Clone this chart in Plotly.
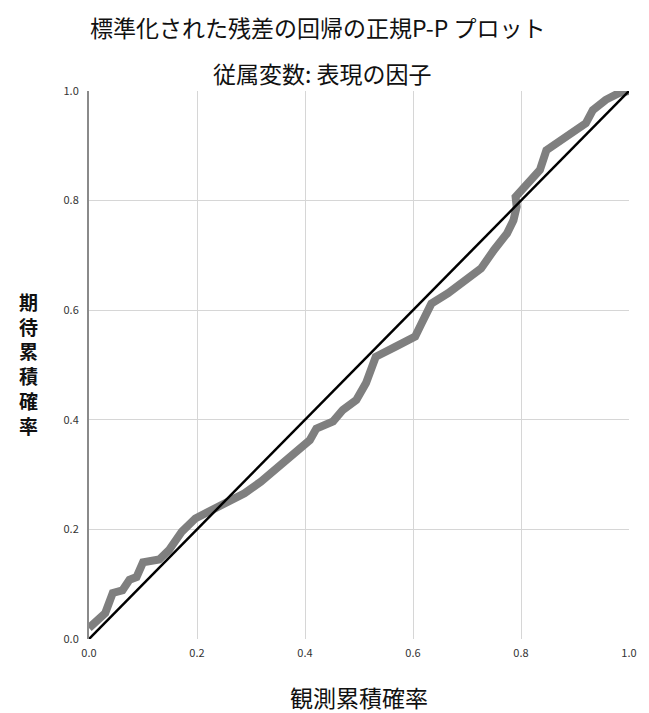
import plotly.graph_objects as go

# Observed cumulative probability vs expected cumulative probability
observed_cum = [0.0, 0.012, 0.03, 0.044, 0.062, 0.075, 0.088, 0.10, 0.117, 0.13, 0.148,
                0.172, 0.197, 0.227, 0.257, 0.288, 0.318, 0.349, 0.379, 0.409, 0.421,
                0.452, 0.470, 0.495, 0.513, 0.531, 0.567, 0.604, 0.616, 0.634, 0.665,
                0.695, 0.726, 0.75, 0.774, 0.786, 0.792, 0.79, 0.811, 0.835, 0.847,
                0.872, 0.896, 0.920, 0.933, 0.957, 0.981, 1.0]
expected_cum = [0.02, 0.03, 0.047, 0.084, 0.089, 0.108, 0.113, 0.14, 0.144, 0.145, 0.162,
                0.196, 0.220, 0.235, 0.248, 0.266, 0.287, 0.314, 0.339, 0.363, 0.384,
                0.397, 0.418, 0.436, 0.467, 0.515, 0.533, 0.552, 0.576, 0.612, 0.631,
                0.655, 0.676, 0.71, 0.740, 0.764, 0.789, 0.807, 0.831, 0.856, 0.892,
                0.908, 0.923, 0.941, 0.965, 0.984, 0.996, 1.0]
reference_line = [0.0, 1.0]
tick_vals = [0.0, 0.2, 0.4, 0.6, 0.8, 1.0]
tick_text = ["0.0", "0.2", "0.4", "0.6", "0.8", "1.0"]

title_text = "標準化された残差の回帰の正規P-P プロット"
subtitle_text = "従属変数: 表現の因子"
x_title = "観測累積確率"
y_title = "期待累積確率"

cjk = "Noto Sans CJK JP"

fig = go.Figure()
fig.add_trace(go.Scatter(
    x=observed_cum, y=expected_cum, mode="lines",
    line=dict(color="#7f7f7f", width=8),
    showlegend=False, hoverinfo="skip",
))
fig.add_trace(go.Scatter(
    x=reference_line, y=reference_line, mode="lines",
    line=dict(color="#000000", width=2.5),
    showlegend=False, hoverinfo="skip",
))

axis_common = dict(
    range=[0, 1], tickvals=tick_vals, ticktext=tick_text,
    showgrid=True, gridcolor="#d6d6d6", gridwidth=1,
    zeroline=False, ticks="",
    tickfont=dict(family=cjk, size=11, color="#333333"),
    fixedrange=True,
)

fig.update_xaxes(**axis_common, showline=False, ticklabelstandoff=6)
fig.update_yaxes(**axis_common, showline=True, linecolor="#8a8a8a", linewidth=2,
                 ticklabelstandoff=6)

# plot area in pixels: left 89, right 637, top 91, bottom 639
M_L, M_R, M_T, M_B = 89, 12, 91, 74
W, H = 649, 713
plot_w = W - M_L - M_R
plot_h = H - M_T - M_B


def px_x(px):
    return (px - M_L) / plot_w


def px_y(py):
    return (H - M_B - py) / plot_h


def label(text, x, y, size, bold=False):
    return dict(text=f"<b>{text}</b>" if bold else text,
                x=px_x(x), xref="paper", y=px_y(y), yref="paper",
                showarrow=False, align="center",
                font=dict(family=cjk, size=size, color="#111111"),
                xanchor="center", yanchor="middle")


fig.update_layout(
    width=W, height=H,
    margin=dict(l=M_L, r=M_R, t=M_T, b=M_B),
    paper_bgcolor="white", plot_bgcolor="white",
    font=dict(family=cjk),
    annotations=[
        label(title_text, 321, 27, 23),
        label(subtitle_text, 326, 73, 23),
        label(x_title, 363, 697, 23),
        label("<br>".join(list(y_title)), 28, 363, 19, bold=True),
    ],
)

fig.write_html("out.html")
